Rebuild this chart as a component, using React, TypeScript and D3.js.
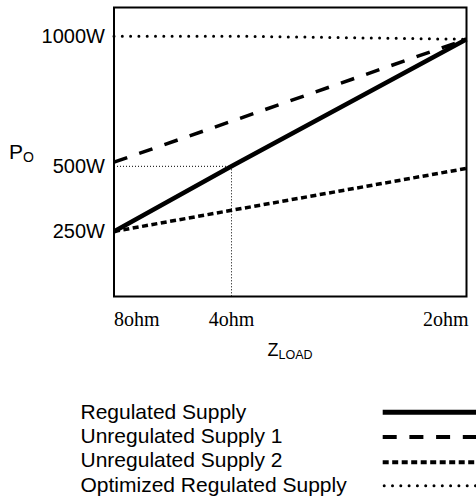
import React from 'react';
import * as d3 from 'd3';

// load impedance in ohms, left to right
const loads = [8, 4, 2];
const loadLabels = ['8ohm', '4ohm', '2ohm'];

// output power (W) at each load
const regulated = [250, 500, 988];
const unregulated1 = [516, 673, 988];
const unregulated2 = [250, 331, 492];
const optimized = [1000, 1000, 988];

const powerTicks = [250, 500, 1000];
const guidePower = 500;
const guideLoad = 4;

const seriesNames = [
  'Regulated Supply',
  'Unregulated Supply 1',
  'Unregulated Supply 2',
  'Optimized Regulated Supply',
];

const W = 476;
const H = 500;
const left = 114;
const right = 466.5;
const top = 7.5;
const bottom = 296.5;

const sans = '"Liberation Sans", Arial, sans-serif';
const serif = '"Liberation Serif", "Times New Roman", serif';

const styles = [
  { width: 4.5, dash: undefined as string | undefined, cap: 'butt' as const, legendWidth: 5 },
  { width: 3.5, dash: '14,12.7', cap: 'butt' as const, legendWidth: 4 },
  { width: 3.5, dash: '6,3.5', cap: 'butt' as const, legendWidth: 4 },
  { width: 3, dash: '0,8.3', cap: 'round' as const, legendWidth: 3 },
];

const App: React.FC = () => {
  // x runs on conductance (1/Z) so 8, 4, 2 ohm land where the drawing puts them
  const x = d3.scaleLinear().domain([1 / 8, 1 / 2]).range([left, right]);
  const y = d3.scaleLinear().domain([0, 1110]).range([bottom, top]);

  const line = d3
    .line<number>()
    .x((_, i) => x(1 / loads[i]))
    .y((d) => y(d));

  const series = [regulated, unregulated1, unregulated2, optimized];
  const legendX0 = 382.7;
  const legendRows = [412.3, 437, 462.3, 485.7];
  const legendBase = [419.3, 443.3, 467.3, 491.5];

  return (
    <svg
      width={W}
      height={H}
      style={{ position: 'absolute', left: 0, top: 0, background: '#fff' }}
    >
      {/* guides to 500W at 4ohm */}
      <line
        x1={left}
        x2={x(1 / guideLoad)}
        y1={y(guidePower)}
        y2={y(guidePower)}
        stroke="#000"
        strokeWidth={1}
        strokeDasharray="1,2"
      />
      <line
        x1={x(1 / guideLoad)}
        x2={x(1 / guideLoad)}
        y1={y(guidePower)}
        y2={bottom}
        stroke="#000"
        strokeWidth={1}
        strokeDasharray="1,2"
      />

      {series.map((s, i) => (
        <path
          key={i}
          d={line(s) || ''}
          fill="none"
          stroke="#000"
          strokeWidth={styles[i].width}
          strokeDasharray={styles[i].dash}
          strokeLinecap={styles[i].cap}
        />
      ))}

      <rect
        x={left}
        y={top}
        width={right - left}
        height={bottom - top}
        fill="none"
        stroke="#000"
        strokeWidth={2}
      />

      {powerTicks.map((t) => (
        <text
          key={t}
          x={105}
          y={y(t) + 7}
          textAnchor="end"
          fontFamily={sans}
          fontSize={20}
        >
          {t}W
        </text>
      ))}

      {loadLabels.map((l, i) => (
        <text
          key={l}
          x={i === 0 ? left : i === loads.length - 1 ? right + 2 : x(1 / loads[i])}
          y={326}
          textAnchor={i === 0 ? 'start' : i === loads.length - 1 ? 'end' : 'middle'}
          fontFamily={serif}
          fontSize={20}
        >
          {l}
        </text>
      ))}

      <text x={9} y={158.5} fontFamily={sans} fontSize={21}>
        P
        <tspan fontSize={14} dy={3}>
          O
        </tspan>
      </text>

      <text x={267.5} y={355.7} fontFamily={sans} fontSize={18}>
        Z
        <tspan fontSize={12.5} dy={2.8}>
          LOAD
        </tspan>
      </text>

      {seriesNames.map((n, i) => (
        <g key={n}>
          <text x={80.5} y={legendBase[i]} fontFamily={sans} fontSize={21}>
            {n}
          </text>
          <line
            x1={legendX0 + (styles[i].cap === 'round' ? 1.5 : 0)}
            x2={W + 4}
            y1={legendRows[i]}
            y2={legendRows[i]}
            stroke="#000"
            strokeWidth={styles[i].legendWidth}
            strokeDasharray={styles[i].dash}
            strokeLinecap={styles[i].cap}
          />
        </g>
      ))}
    </svg>
  );
};

export default App;
